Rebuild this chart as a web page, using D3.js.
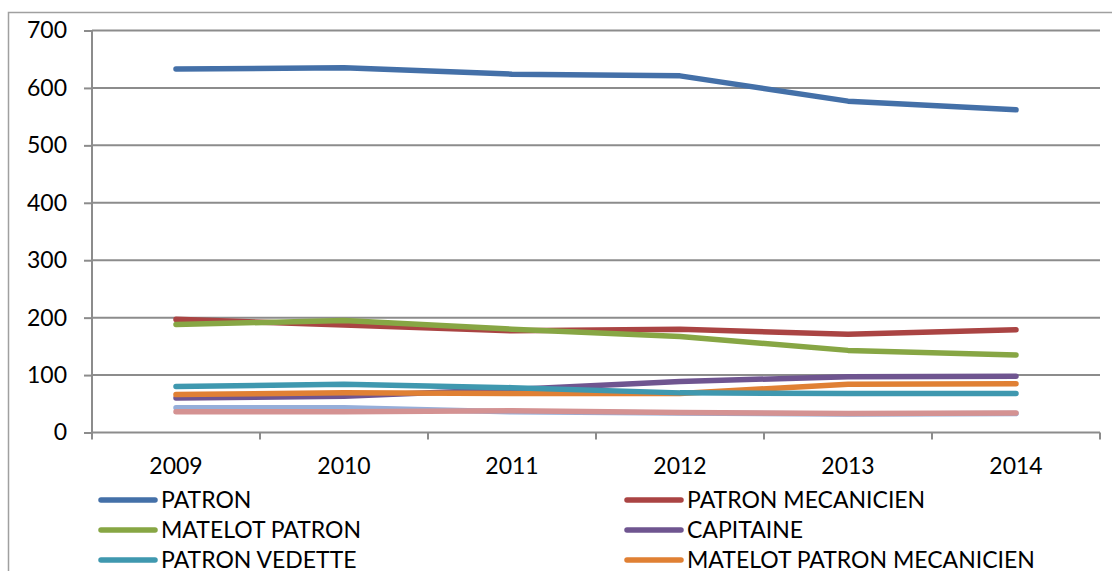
<!DOCTYPE html>
<html><head><meta charset="utf-8">
<script src="https://cdn.jsdelivr.net/npm/d3@7"></script>
<style>
html,body{margin:0;padding:0;background:#fff;overflow:hidden;}
svg{display:block;font-family:Lato,"Liberation Sans",sans-serif;}
</style></head>
<body>
<script>
const years = ["2009","2010","2011","2012","2013","2014"];
const yTicks = [0,100,200,300,400,500,600,700];
const seriesNames = ["PATRON","PATRON MECANICIEN","MATELOT PATRON","CAPITAINE","PATRON VEDETTE","MATELOT PATRON MECANICIEN"];
const seriesColors = ["#4470A8","#AA4443","#87A644","#6F5590","#3F98AF","#E08034","#95AEDA","#D49292"];
const patron = [633,635,624,621,577,562];
const patronMecanicien = [197,187,177,180,171,179];
const matelotPatron = [188,195,180,167,143,135];
const capitaine = [60,63,75,89,97,98];
const patronVedette = [80,84,78,69,68,68];
const matelotPatronMecanicien = [66,69,68,68,84,85];
const serie7 = [43,43,36,34,32,33];
const serie8 = [36,36,38,35,33,34];
const values = [patron,patronMecanicien,matelotPatron,capitaine,patronVedette,matelotPatronMecanicien,serie7,serie8];
const drawOrder = [6,7,0,1,2,3,5,4];

(function(){
const W=1112,H=571;
const svg=d3.select("body").append("svg").attr("width",W).attr("height",H);
svg.append("rect").attr("x",8.5).attr("y",12.5).attr("width",1120).attr("height",600)
  .attr("fill","none").attr("stroke","#A0A0A0").attr("stroke-width",1.5);

const pl=92,pr=1100,pt=30.5,pb=432.5;
const x=d3.scaleBand().domain(years).range([pl,pr]);
const y=d3.scaleLinear().domain([0,700]).range([pb,pt]);

svg.append("g").selectAll("line").data(yTicks.filter(d=>d>0)).join("line")
  .attr("x1",pl).attr("x2",pr).attr("y1",d=>y(d)).attr("y2",d=>y(d))
  .attr("stroke","#8C8C8C").attr("stroke-width",2);

const yAxis=svg.append("g").attr("transform",`translate(${pl},0)`)
  .call(d3.axisLeft(y).tickValues(yTicks).tickSize(8).tickPadding(17));
yAxis.select(".domain").attr("stroke","#8C8C8C").attr("stroke-width",2).attr("d",`M0,${pt}V${pb}`);
yAxis.selectAll(".tick line").attr("stroke","#8C8C8C").attr("stroke-width",2);
yAxis.selectAll("text").attr("font-size",23).attr("fill","#000").attr("font-family","Lato");

const xAxis=svg.append("g").attr("transform",`translate(0,${pb})`)
  .call(d3.axisBottom(x).tickSize(0).tickPadding(25));
xAxis.select(".domain").attr("stroke","#8C8C8C").attr("stroke-width",2).attr("d",`M${pl},0H${pr}`);
xAxis.selectAll("text").attr("font-size",23).attr("fill","#000").attr("font-family","Lato");
const bounds=years.map(d=>x(d)).concat([pr]);
xAxis.selectAll("line.bt").data(bounds).join("line").attr("class","bt")
  .attr("x1",d=>d).attr("x2",d=>d).attr("y1",0).attr("y2",7)
  .attr("stroke","#8C8C8C").attr("stroke-width",2);

const line=d3.line().x((d,i)=>x(years[i])+x.bandwidth()/2).y(d=>y(d));
svg.append("g").selectAll("path").data(drawOrder).join("path")
  .attr("d",i=>line(values[i])).attr("fill","none")
  .attr("stroke",i=>seriesColors[i]).attr("stroke-width",5.5)
  .attr("stroke-linecap","round").attr("stroke-linejoin","round");

const legend=svg.append("g");
const lx=[101,627], ly=[500,530,560];
seriesNames.forEach((n,i)=>{
  const cx=lx[i%2], cy=ly[Math.floor(i/2)];
  legend.append("line").attr("x1",cx).attr("x2",cx+54).attr("y1",cy).attr("y2",cy)
    .attr("stroke",seriesColors[i]).attr("stroke-width",5.5).attr("stroke-linecap","round");
  legend.append("text").attr("x",cx+60).attr("y",cy+8).attr("font-size",23)
    .attr("fill","#000").text(n);
});
})();
</script>
</body></html>
